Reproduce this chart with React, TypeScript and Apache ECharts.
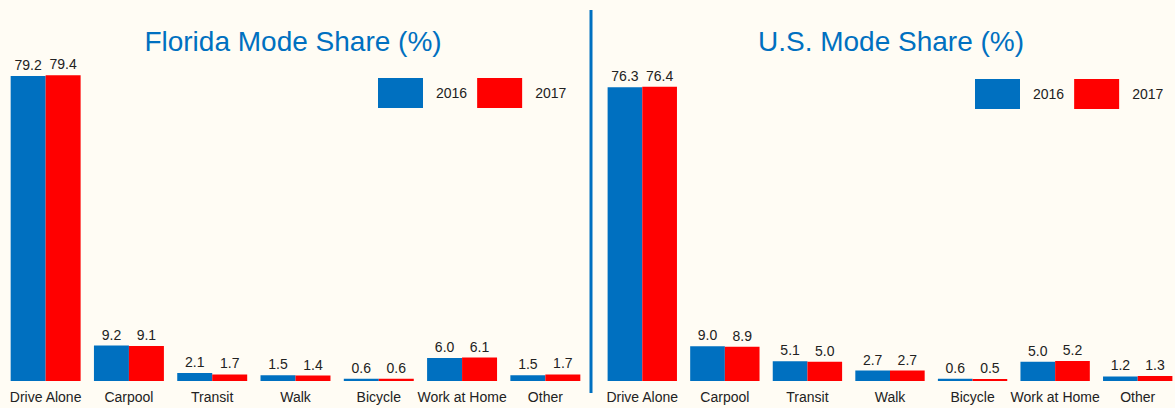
import React, { useEffect, useRef } from "react";
import * as echarts from "echarts";

const categories = ["Drive Alone", "Carpool", "Transit", "Walk", "Bicycle", "Work at Home", "Other"];
const years = ["2016", "2017"];
const florida2016 = [79.2, 9.2, 2.1, 1.5, 0.6, 6.0, 1.5];
const florida2017 = [79.4, 9.1, 1.7, 1.4, 0.6, 6.1, 1.7];
const us2016 = [76.3, 9.0, 5.1, 2.7, 0.6, 5.0, 1.2];
const us2017 = [76.4, 8.9, 5.0, 2.7, 0.5, 5.2, 1.3];
const titles = ["Florida Mode Share (%)", "U.S. Mode Share (%)"];

const BLUE = "#0070C0";
const RED = "#FF0000";
const BG = "#FFFCF4";
const FONT = "'Liberation Sans', Arial, sans-serif";

export default function App() {
  const ref = useRef<HTMLDivElement>(null);
  useEffect(() => {
    document.body.style.margin = "0";
    const chart = echarts.init(ref.current!, null, { renderer: "svg" });
    const mkSeries = (name: string, data: number[], color: string, idx: number) => ({
      type: "bar",
      name,
      data,
      xAxisIndex: idx,
      yAxisIndex: idx,
      barGap: "0%",
      barCategoryGap: "16%",
      itemStyle: { color },
      label: {
        show: true,
        position: "top",
        distance: 4,
        formatter: (p: any) => Number(p.value).toFixed(1),
        color: "#222",
        fontSize: 14,
        fontFamily: FONT,
      },
    });
    const xAx = (idx: number) => ({
      type: "category",
      gridIndex: idx,
      data: categories,
      axisLine: { show: false },
      axisTick: { show: false },
      axisLabel: { color: "#222", fontSize: 14, fontFamily: FONT, margin: 9, interval: 0 },
    });
    const yAx = (idx: number) => ({
      type: "value",
      gridIndex: idx,
      min: 0,
      max: 80,
      show: false,
      splitLine: { show: false },
    });
    const legend = (left: number, top: number) => ({
      data: years,
      left,
      top,
      orient: "horizontal",
      padding: 0,
      itemWidth: 45,
      itemHeight: 30,
      itemGap: 10,
      icon: "rect",
      selectedMode: false,
      textStyle: { color: "#222", fontSize: 14, fontFamily: FONT, padding: [0, 0, 0, 8] },
    });
    chart.setOption({
      animation: false,
      backgroundColor: BG,
      grid: [
        { left: 4, top: 73, width: 583, height: 308, outerBoundsMode: "none", containLabel: false },
        { left: 601, top: 73, width: 578, height: 308, outerBoundsMode: "none", containLabel: false },
      ],
      xAxis: [xAx(0), xAx(1)],
      yAxis: [yAx(0), yAx(1)],
      legend: [legend(378, 78), legend(975, 79)],
      series: [
        mkSeries(years[0], florida2016, BLUE, 0),
        mkSeries(years[1], florida2017, RED, 0),
        mkSeries(years[0], us2016, BLUE, 1),
        mkSeries(years[1], us2017, RED, 1),
      ],
      graphic: [
        {
          type: "text",
          x: 293,
          y: 41,
          style: { text: titles[0], fill: BLUE, fontSize: 28, fontFamily: FONT, align: "center", verticalAlign: "middle" },
        },
        {
          type: "text",
          x: 891,
          y: 41,
          style: { text: titles[1], fill: BLUE, fontSize: 28, fontFamily: FONT, align: "center", verticalAlign: "middle" },
        },
        {
          type: "line",
          shape: { x1: 591, y1: 10, x2: 591, y2: 393 },
          style: { stroke: BLUE, lineWidth: 3 },
        },
      ],
    });
    return () => chart.dispose();
  }, []);
  return <div ref={ref} style={{ width: 1175, height: 408 }} />;
}
